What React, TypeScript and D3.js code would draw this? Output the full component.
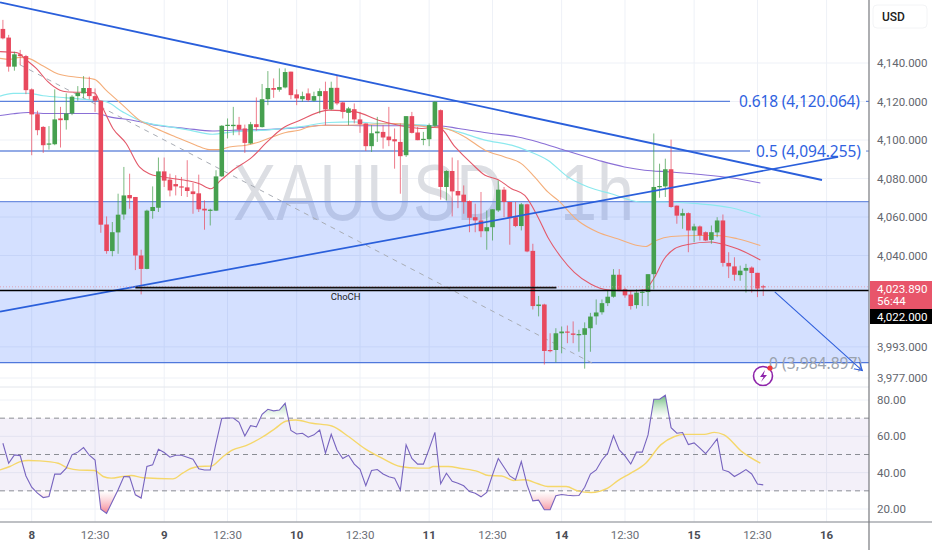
import React from 'react';
import * as d3 from 'd3';

const candleOpen = [
  4157.7,4153.2,4138.1,4144.5,4143.6,4126.3,4113.4,4106.8,4097.8,4097.8,
  4111.2,4110.3,4113.8,4122.8,4124.2,4127.0,4122.8,4120.4,4056.1,4042.3,
  4052.0,4061.3,4071.4,4070.4,4040.0,4033.1,4063.1,4064.8,4083.7,4079.4,
  4077.1,4075.9,4075.4,4073.3,4072.3,4064.3,4063.4,4063.3,4081.1,4107.4,
  4107.2,4107.9,4106.0,4098.2,4108.2,4106.7,4121.2,4127.0,4126.1,4127.3,
  4135.5,4123.7,4121.2,4124.2,4120.4,4122.8,4125.4,4115.9,4127.1,4119.5,
  4114.1,4116.0,4110.7,4108.6,4096.8,4103.5,4104.2,4101.8,4100.4,4099.0,
  4092.1,4112.4,4103.9,4100.1,4100.4,4107.4,4115.5,4075.6,4083.9,4073.5,
  4071.6,4068.3,4059.9,4058.2,4052.6,4054.7,4063.4,4074.2,4067.8,4059.9,
  4055.3,4066.6,4042.4,4014.0,4014.8,3991.4,3991.4,4000.0,4000.9,3999.9,
  3999.2,3999.2,4002.6,4008.7,4010.8,4015.5,4018.8,4030.1,4022.6,4019.9,
  4014.5,4020.9,4021.2,4030.4,4075.6,4075.9,4084.8,4065.9,4060.7,4062.0,
  4053.0,4055.1,4052.1,4048.1,4052.0,4058.2,4036.2,4034.4,4029.9,4032.2,
  4033.8,4031.1,4024.2,
];
const candleClose = [
  4152.8,4138.1,4144.5,4143.6,4125.9,4113.3,4105.1,4097.3,4098.2,4110.7,
  4110.3,4113.8,4122.5,4124.5,4127.0,4122.8,4120.4,4056.0,4042.3,4052.1,
  4061.2,4071.2,4069.7,4040.0,4033.1,4063.3,4065.2,4083.7,4078.9,4073.8,
  4075.9,4075.6,4073.5,4071.9,4064.0,4063.4,4063.8,4081.1,4107.4,4107.9,
  4107.9,4105.4,4098.5,4108.2,4106.7,4121.2,4127.0,4126.1,4127.5,4135.3,
  4123.3,4121.6,4122.8,4120.7,4122.8,4125.4,4115.9,4127.1,4119.0,4114.6,
  4116.4,4110.7,4108.2,4096.8,4103.5,4104.4,4101.3,4099.9,4099.3,4091.6,
  4112.4,4103.7,4099.9,4100.6,4107.7,4119.9,4075.6,4083.9,4073.3,4071.2,
  4067.8,4059.6,4058.2,4052.6,4054.7,4064.0,4074.2,4067.8,4059.4,4055.3,
  4066.6,4042.1,4014.0,4014.8,3990.9,3990.9,4000.0,4000.9,4000.4,3999.2,
  3999.6,4002.6,4008.6,4010.7,4015.5,4018.8,4030.1,4022.3,4019.5,4014.0,
  4020.9,4021.4,4030.4,4075.6,4076.1,4084.8,4065.2,4060.7,4062.0,4053.0,
  4055.1,4050.4,4047.8,4052.1,4058.2,4036.2,4034.4,4030.1,4032.2,4033.6,
  4031.0,4023.0,4023.89,
];
const candleHigh = [
  4162.4,4154.6,4145.9,4146.8,4144.2,4126.8,4115.2,4107.2,4107.2,4126.3,
  4117.2,4124.2,4123.3,4128.0,4133.2,4132.9,4126.8,4120.7,4060.3,4057.4,
  4072.1,4086.0,4082.5,4070.4,4043.0,4063.8,4075.9,4090.9,4090.9,4082.5,
  4081.7,4080.8,4089.5,4077.7,4082.0,4068.6,4064.3,4084.3,4107.7,4111.2,
  4117.2,4112.0,4108.0,4109.4,4122.1,4129.1,4135.8,4132.0,4137.2,4137.2,
  4135.5,4126.3,4125.1,4126.8,4125.1,4126.8,4130.3,4130.3,4133.7,4119.9,
  4117.2,4119.0,4114.6,4108.6,4107.7,4112.0,4107.7,4117.2,4106.0,4108.6,
  4112.4,4114.6,4106.8,4104.2,4108.6,4120.2,4115.9,4084.3,4090.9,4089.5,
  4076.4,4068.6,4066.9,4073.0,4063.4,4064.0,4079.0,4075.6,4067.8,4067.8,
  4067.3,4066.9,4046.1,4019.2,4015.2,4000.0,4002.6,4003.5,4004.0,4006.1,
  4001.8,4005.6,4010.5,4017.4,4017.4,4021.8,4033.0,4033.0,4023.5,4021.8,
  4022.6,4022.6,4030.4,4103.4,4087.7,4090.3,4100.2,4066.0,4064.3,4062.4,
  4056.5,4055.6,4052.5,4055.6,4059.9,4061.3,4041.7,4039.1,4034.8,4035.7,
  4034.4,4031.1,4024.9,
];
const candleLow = [
  4152.3,4135.5,4136.0,4138.9,4123.8,4092.1,4102.5,4093.3,4095.0,4097.3,
  4096.1,4105.4,4112.9,4120.4,4121.6,4121.1,4114.6,4051.8,4040.9,4039.6,
  4040.9,4058.6,4064.3,4032.5,4020.0,4032.9,4059.1,4062.6,4075.6,4070.7,
  4071.2,4070.9,4070.4,4061.7,4062.6,4053.4,4055.6,4063.1,4080.8,4100.8,
  4102.5,4102.5,4093.3,4097.8,4104.8,4106.5,4118.1,4121.9,4125.1,4126.8,
  4121.2,4118.1,4119.9,4119.9,4119.9,4113.8,4107.7,4115.5,4118.1,4111.2,
  4107.7,4108.6,4103.7,4094.3,4093.8,4099.0,4095.5,4096.8,4085.1,4072.1,
  4091.2,4103.4,4099.9,4097.3,4096.8,4106.8,4069.0,4068.6,4060.3,4064.6,
  4061.7,4052.1,4052.1,4049.5,4043.0,4047.8,4062.6,4059.9,4045.6,4054.7,
  4053.0,4041.7,4012.2,4008.7,3983.9,3990.2,3985.0,3989.7,3994.9,3994.9,
  3990.5,3981.8,3990.5,4004.4,4009.6,4014.0,4018.3,4021.8,4018.3,4012.2,
  4012.7,4014.0,4014.0,4022.6,4070.0,4070.4,4064.8,4056.5,4053.9,4041.7,
  4046.9,4047.8,4047.5,4046.1,4049.5,4034.3,4028.4,4027.0,4027.0,4020.9,
  4020.9,4018.6,4019.2,
];

// moving averages, read at the bends: [bar, price]
const maRed = [
  [-0.5,4145.9],[2.4,4145.4],[4.1,4141.5],[5.8,4137.2],[7.8,4130.3],[9.9,4125.9],[11,4125.1],[15.9,4124.5],
  [16.8,4119.9],[19.1,4106.0],[21.4,4098.2],[23.7,4086.0],[25.4,4082.5],[27.7,4080.8],[31.8,4079.0],[34.1,4077.3],
  [36.1,4074.7],[37.8,4079.0],[39.9,4084.3],[43.3,4091.2],[45.6,4098.2],[48.5,4106.0],[51.4,4110.0],[56.6,4115.5],
  [61.2,4114.6],[65.2,4110.3],[68.7,4107.7],[72.7,4106.0],[75.6,4106.8],[78.5,4096.4],[81.4,4087.7],[83.7,4081.7],
  [86,4079.4],[88.3,4074.7],[90.6,4071.2],[92.9,4059.9],[94.6,4049.5],[96.9,4039.1],[99.2,4031.3],[102.1,4025.2],
  [105,4022.3],[109,4021.8],[111.4,4022.3],[113.1,4028.7],[114.8,4038.2],[116.6,4043.5],[118.9,4045.7],[122.9,4047.0],
  [124.3,4046.4],[127.5,4043.5],[131.5,4037.7],
];
const maOrange = [
  [-0.5,4142.4],[1.2,4141.9],[2.9,4142.9],[4.4,4142.4],[7,4138.4],[9.6,4134.3],[13.3,4132.5],[15.9,4131.5],
  [17.9,4125.9],[20.8,4118.1],[23.7,4110.3],[26.6,4106.0],[30,4101.6],[33.5,4097.3],[35.8,4095.0],[37.5,4095.0],
  [39.3,4096.4],[42.2,4097.3],[44.5,4099.0],[46.8,4101.6],[49.1,4103.9],[51.4,4105.1],[53.1,4106.8],[56,4107.7],
  [59.5,4107.7],[68.1,4108.6],[73.9,4106.8],[76.8,4106.0],[80.2,4101.6],[83.7,4094.7],[87.1,4091.2],[90,4087.7],
  [92.3,4080.8],[94.6,4073.0],[96.4,4068.6],[99.8,4058.2],[103.3,4052.1],[106.7,4048.7],[110.2,4045.2],[111.6,4044.7],
  [113.4,4047.8],[116,4049.9],[120.6,4050.4],[124,4050.4],[127.5,4048.7],[131.5,4045.2],
];
const maCyan = [
  [-0.5,4122.8],[1.8,4124.2],[4.4,4124.2],[7,4123.0],[11,4121.9],[15.6,4120.7],[17.9,4119.9],[20.8,4114.6],
  [24.3,4109.4],[28.3,4107.2],[32.4,4105.1],[36.4,4103.0],[39.9,4104.2],[45.6,4105.1],[49.1,4106.0],[51.4,4106.8],
  [56.6,4109.1],[60.6,4109.4],[65.2,4108.6],[73.3,4107.7],[79.1,4104.2],[83.7,4099.9],[88.3,4097.3],[91.2,4094.3],
  [94.6,4089.5],[98.1,4080.8],[101.6,4075.6],[105.6,4072.1],[110.8,4067.8],[114.8,4067.8],[120.6,4066.9],[126.4,4064.8],
  [131.5,4060.3],
];
const maPurple = [
  [-0.5,4112.7],[1.8,4113.6],[4.4,4114.3],[7,4113.8],[11,4113.8],[16.2,4113.8],[18.5,4112.0],[22.5,4110.3],
  [26.6,4107.7],[31.8,4106.0],[36.4,4104.7],[39.9,4105.1],[45.6,4105.4],[51.4,4106.5],[56,4107.7],[65.2,4107.4],
  [75.6,4107.4],[79.1,4106.0],[84.8,4103.4],[89.4,4101.6],[92.9,4099.0],[97.5,4094.7],[103.3,4089.5],[107.9,4086.0],
  [111.4,4084.3],[116,4083.4],[120.6,4082.2],[126.4,4080.4],[131.5,4077.7],
];

const rsiValues = [
  56.2,45.2,49.8,49.4,38.2,32.0,28.7,26.3,26.9,39.2,39.2,42.5,49.8,51.3,53.8,49.6,47.0,19.9,17.6,24.1,
  30.6,37.9,37.7,27.8,26.0,43.4,44.3,52.9,51.1,48.5,49.6,49.6,48.5,47.4,42.1,41.5,41.5,56.2,69.9,70.1,
  70.1,67.7,60.2,65.9,65.2,72.1,74.9,74.0,74.5,78.2,63.2,61.3,61.7,59.5,60.8,63.5,50.7,61.1,52.5,47.8,
  49.6,44.7,41.9,32.9,41.2,41.7,39.3,37.7,37.0,30.4,55.3,47.8,44.7,44.7,53.1,62.2,33.9,39.7,35.3,34.2,
  32.8,29.6,28.7,26.7,29.1,38.8,47.8,43.0,38.2,36.1,46.1,33.3,24.5,24.9,19.6,19.6,27.3,28.0,27.6,27.3,
  27.4,32.0,39.2,41.5,47.0,50.7,60.4,52.5,49.2,44.8,51.3,51.3,60.8,80.4,80.4,82.6,64.8,61.7,62.1,55.5,
  56.4,53.5,50.5,54.4,58.6,41.5,40.5,37.9,39.7,41.7,39.3,33.7,33.3,
];
const rsiMa = [
  [-0.5,41.5],[1.2,43.4],[2.9,45.9],[4.4,46.7],[6.4,46.5],[9.6,45.2],[11.3,42.5],[13.3,41.4],[15.9,41.2],[17.4,37.9],
  [18.8,37.0],[20.8,37.9],[22.3,38.4],[24.3,37.2],[29.5,36.6],[31.2,39.7],[32.6,42.3],[34.1,43.4],[36.1,43.6],[38.1,48.5],
  [39.9,52.5],[42.2,54.9],[45,59.5],[47.3,64.4],[49.1,68.3],[50.8,69.0],[53.7,67.2],[57.1,65.7],[60,59.9],[62.9,53.1],
  [65.8,48.0],[69,43.4],[72.1,42.5],[73.9,42.5],[74.7,43.4],[77.3,43.4],[79.6,42.3],[82.5,40.6],[84.3,38.4],[86.6,38.2],
  [88.6,35.7],[90.6,36.1],[92.9,33.9],[94.6,32.4],[97.8,32.4],[99.8,30.0],[102.1,29.1],[105,31.5],[106.7,35.5],[109,39.7],
  [111.6,45.2],[114.2,55.3],[116.6,59.9],[118.3,61.1],[121.8,61.1],[123.5,62.2],[125.2,60.8],[128.4,51.3],[131.5,45.2],
];

const priceTicks = [4140, 4120, 4100, 4080, 4060, 4040, 3993, 3977];
const rsiTicks = [80, 60, 40, 20];
const rsiDashes = [70, 50, 30];
const timeBars = [5, 16, 28, 39, 51, 62, 74, 85, 97, 108, 120, 131, 143];
const timeLabels = ['8', '12:30', '9', '12:30', '10', '12:30', '11', '12:30', '14', '12:30', '15', '12:30', '16'];

const fib618 = 4120.064;
const fib05 = 4094.255;
const fib0 = 3984.897;
const zoneTop = 4068;
const lastPrice = 4023.89;
const levelPrice = 4022;

// drawings: [bar, price] at each end
const trendDown = [[-0.5, 4171.5], [142.2, 4079.2]];
const trendUp = [[-0.5, 4011.1], [145, 4091.2]];
const fibDiagonal = [[3, 4139], [102.8, 3983.9]];
const targetArrow = [[134, 4021.3], [149.2, 3980.8]];
const chochLine = [[23, 4023.5], [96.1, 4023.5]];

const axisX = 869;
const timeAxisY = 522;

const x = d3.scaleLinear().domain([0, 143]).range([2.9, 826.6]);
const y = d3.scaleLinear().domain([4140, 4040, 3977]).range([63, 255.5, 378]);
const yRsi = d3.scaleLinear().domain([80, 20]).range([400, 509]);

const linePrice = d3.line<number[]>().x(d => x(d[0])).y(d => y(d[1])).curve(d3.curveMonotoneX);
const lineRsi = d3.line<number[]>().x(d => x(d[0])).y(d => yRsi(d[1]));
const smoothRsi = d3.line<number[]>().x(d => x(d[0])).y(d => yRsi(d[1])).curve(d3.curveMonotoneX);
const rsiPoints = rsiValues.map((v, i) => [i, v]);
const rsiArea = (level: number) =>
  d3.area<number[]>().x(d => x(d[0])).y0(yRsi(level)).y1(d => yRsi(d[1]))(rsiPoints) || '';

const fmtPrice = d3.format(',.3f');
const blue = '#2f5fdc';
const font = 'Roboto, "Liberation Sans", sans-serif';

const Seg = ({ p, ...rest }: any) => (
  <line x1={x(p[0][0])} y1={y(p[0][1])} x2={x(p[1][0])} y2={y(p[1][1])} {...rest} />
);

export default function App() {
  return (
    <svg width={932} height={550} style={{ position: 'fixed', left: 0, top: 0, background: '#fff' }} fontFamily={font}>
      <defs>
        <clipPath id="below"><rect x={0} y={yRsi(30)} width={axisX} height={40} /></clipPath>
        <clipPath id="above"><rect x={0} y={380} width={axisX} height={yRsi(70) - 380} /></clipPath>
        <linearGradient id="redFade" gradientUnits="userSpaceOnUse" x1="0" y1={yRsi(30)} x2="0" y2={yRsi(18)}>
          <stop offset="0" stopColor="#f7b3bb" stopOpacity={0} />
          <stop offset="1" stopColor="#f4808f" stopOpacity={0.95} />
        </linearGradient>
        <linearGradient id="greenFade" gradientUnits="userSpaceOnUse" x1="0" y1={yRsi(70)} x2="0" y2={yRsi(82)}>
          <stop offset="0" stopColor="#b7e0bd" stopOpacity={0} />
          <stop offset="1" stopColor="#6fbd80" stopOpacity={0.95} />
        </linearGradient>
        <marker id="arrow" markerWidth="9" markerHeight="9" refX="7" refY="4" orient="auto">
          <path d="M0,0 L7,4 L0,8" fill="none" stroke={blue} strokeWidth={1} />
        </marker>
      </defs>

      {/* grid */}
      {timeBars.map(b => (
        <line key={b} x1={x(b)} x2={x(b)} y1={0} y2={timeAxisY} stroke="#eef1f7" />
      ))}
      {priceTicks.map(t => (
        <line key={t} x1={0} x2={axisX} y1={y(t)} y2={y(t)} stroke="#eef1f7" />
      ))}
      {rsiTicks.map(t => (
        <line key={t} x1={0} x2={axisX} y1={yRsi(t)} y2={yRsi(t)} stroke="#eef1f7" />
      ))}

      {/* watermark */}
      <text x={233} y={220} fontSize={80} fontFamily='"Liberation Sans", sans-serif' fill="#dcdee3" textLength={270} lengthAdjust="spacingAndGlyphs">XAUUSD</text>
      <text x={560} y={220} fontSize={80} fontFamily='"Liberation Sans", sans-serif' fill="#dcdee3" textLength={74} lengthAdjust="spacingAndGlyphs">1h</text>

      {/* supply / demand zone */}
      <rect x={0} y={y(zoneTop)} width={axisX} height={y(fib0) - y(zoneTop)} fill="#2962ff" fillOpacity={0.2} />
      <line x1={0} x2={axisX} y1={y(zoneTop)} y2={y(zoneTop)} stroke="#6f8fe0" strokeWidth={1.2} />

      {/* fib levels */}
      <line x1={0} x2={730} y1={y(fib618)} y2={y(fib618)} stroke="#5d82dd" strokeWidth={1.2} />
      <line x1={866} x2={axisX} y1={y(fib618)} y2={y(fib618)} stroke="#5d82dd" strokeWidth={1.2} />
      <line x1={0} x2={750} y1={y(fib05)} y2={y(fib05)} stroke="#93abe6" strokeWidth={2} />
      <line x1={866} x2={axisX} y1={y(fib05)} y2={y(fib05)} stroke="#93abe6" strokeWidth={1.5} />
      <line x1={0} x2={axisX} y1={y(fib0)} y2={y(fib0)} stroke="#4f78dc" strokeWidth={1.2} />
      <Seg p={fibDiagonal} stroke="#a9adb5" strokeWidth={1} strokeDasharray="5 5" />
      <text x={739} y={y(fib618) + 5.5} fontSize={15.5} fill="#2f62e0" fontFamily='"Noto Sans", sans-serif' textLength={121}>0.618 (4,120.064)</text>
      <text x={756} y={y(fib05) + 5.5} fontSize={15.5} fill="#2f62e0" fontFamily='"Noto Sans", sans-serif' textLength={105}>0.5 (4,094.255)</text>
      <text x={769} y={y(fib0) + 6} fontSize={15.5} fill="#9aa2ad" fontFamily='"Noto Sans", sans-serif' textLength={93}>0 (3,984.897)</text>

      {/* moving averages */}
      <path d={linePrice(maPurple) || ''} fill="none" stroke="#8a6fd6" strokeWidth={1.1} />
      <path d={linePrice(maCyan) || ''} fill="none" stroke="#8ce9ee" strokeWidth={1.2} />
      <path d={linePrice(maOrange) || ''} fill="none" stroke="#f4ae7a" strokeWidth={1.1} />
      <path d={linePrice(maRed) || ''} fill="none" stroke="#e3596a" strokeWidth={1.1} />

      {/* candles */}
      {candleOpen.map((o, i) => {
        const c = candleClose[i];
        const col = c >= o ? '#46a04f' : '#e8495e';
        const top = Math.min(y(o), y(c));
        const h = Math.max(1.2, Math.abs(y(o) - y(c)));
        return (
          <g key={i}>
            <line x1={x(i)} x2={x(i)} y1={y(candleHigh[i])} y2={y(candleLow[i])} stroke={col} strokeOpacity={0.72} strokeWidth={1} />
            <rect x={x(i) - 2.3} y={top} width={4.6} height={h} fill={col} />
          </g>
        );
      })}

      {/* trend lines and levels */}
      <Seg p={trendDown} stroke="#2a5fdb" strokeWidth={1.9} />
      <Seg p={trendUp} stroke="#2a5fdb" strokeWidth={1.7} />
      <line x1={0} x2={axisX} y1={y(lastPrice)} y2={y(lastPrice)} stroke="#e58a95" strokeDasharray="1 2" strokeOpacity={0.7} />
      <line x1={0} x2={axisX} y1={y(levelPrice)} y2={y(levelPrice)} stroke="#000" strokeWidth={1.6} />
      <Seg p={chochLine} stroke="#111" strokeWidth={1.6} />
      <text x={x(59.5)} y={300} fontSize={9.5} textAnchor="middle" fill="#222">ChoCH</text>
      <Seg p={targetArrow} stroke={blue} strokeWidth={1.1} markerEnd="url(#arrow)" />

      {/* alert icon */}
      <g>
        <circle cx={763} cy={376} r={9.5} fill="#fff" stroke="#8e24aa" strokeWidth={1.6} />
        <path d="M765,370 L760,377 L763.5,377 L761,382 L767,375 L763.5,375 Z" fill="#8e24aa" />
        <circle cx={770} cy={368} r={2.6} fill="#ef3b3b" />
      </g>

      {/* RSI pane */}
      <line x1={0} x2={axisX} y1={387} y2={387} stroke="#e3e6ec" />
      <rect x={0} y={yRsi(70)} width={axisX} height={yRsi(30) - yRsi(70)} fill="#7e57c2" fillOpacity={0.09} />
      {rsiDashes.map(t => (
        <line key={t} x1={0} x2={axisX} y1={yRsi(t)} y2={yRsi(t)} stroke="#8a8d94" strokeDasharray="5 4" />
      ))}
      <path d={rsiArea(30)} fill="url(#redFade)" clipPath="url(#below)" />
      <path d={rsiArea(70)} fill="url(#greenFade)" clipPath="url(#above)" />
      <path d={smoothRsi(rsiMa) || ''} fill="none" stroke="#f5d76a" strokeWidth={1.4} />
      <path d={lineRsi(rsiPoints) || ''} fill="none" stroke="#7764bf" strokeWidth={1.1} />

      {/* axes */}
      <line x1={0} x2={932} y1={timeAxisY} y2={timeAxisY} stroke="#a8abb0" strokeWidth={1.6} />
      <line x1={axisX} x2={axisX} y1={0} y2={550} stroke="#77797e" strokeWidth={1.2} />
      {timeBars.map((b, i) => {
        const bold = !timeLabels[i].includes(':');
        return (
          <text key={b} x={x(b)} y={539} fontSize={11.5} textAnchor="middle" fontWeight={bold ? 700 : 400} fill={bold ? '#4a4d55' : '#6a6d75'}>
            {timeLabels[i]}
          </text>
        );
      })}
      {priceTicks.map(t => (
        <text key={t} x={877} y={y(t) + 4} fontSize={11.5} fill="#63666e">{fmtPrice(t)}</text>
      ))}
      {rsiTicks.map(t => (
        <text key={t} x={877} y={yRsi(t) + 4} fontSize={11.5} fill="#63666e">{d3.format('.2f')(t)}</text>
      ))}

      {/* price labels */}
      <rect x={870} y={281} width={62} height={28} fill="#e8556a" />
      <text x={877} y={292.5} fontSize={11.5} fill="#fff">{fmtPrice(lastPrice)}</text>
      <text x={877} y={304.5} fontSize={11.5} fill="#fff">56:44</text>
      <rect x={870} y={309} width={62} height={15} fill="#000" />
      <text x={877} y={320.5} fontSize={11.5} fill="#fff">{fmtPrice(levelPrice)}</text>
      <rect x={873} y={5} width={54} height={23} rx={4} fill="#fff" stroke="#f3f4f6" />
      <text x={882} y={21} fontSize={12} fontWeight={500} fill="#222">USD</text>
    </svg>
  );
}
